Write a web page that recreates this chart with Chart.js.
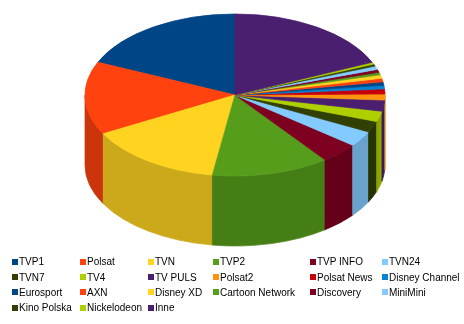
<!DOCTYPE html>
<html>
<head>
<meta charset="utf-8">
<script src="https://cdn.jsdelivr.net/npm/chart.js"></script>
<style>
    html, body { margin: 0; padding: 0; background: #fff; }
    #wrap { position: relative; width: 464px; height: 324px; overflow: hidden; }
    #chart { position: absolute; left: 0; top: 0; }
    #legend {
        position: absolute; left: 12px; top: 254px;
        display: grid;
        grid-template-columns: 68px 68px 65px 97px 72px auto;
        grid-auto-rows: 15.4px;
        font-family: "Liberation Sans", Arial, sans-serif;
        font-size: 10px; color: #000;
    }
    .item { display: flex; align-items: center; white-space: nowrap; }
    .box { width: 6px; height: 6px; margin-right: 1px; flex: none; }
</style>
</head>
<body>
<div id="wrap">
    <canvas id="chart" width="464" height="324"></canvas>
    <div id="legend"></div>
</div>
<script>
// Udział w rynku (%)
const channels = ['TVP1', 'Polsat', 'TVN', 'TVP2', 'TVP INFO', 'TVN24',
    'TVN7', 'TV4', 'TV PULS', 'Polsat2', 'Polsat News', 'Disney Channel',
    'Eurosport', 'AXN', 'Disney XD', 'Cartoon Network', 'Discovery', 'MiniMini',
    'Kino Polska', 'Nickelodeon', 'Inne'];
const shares = [18.3, 14.5, 14.6, 12.6, 4.1, 3.1,
    2.2, 2.1, 2.2, 1.2, 1.0, 0.7,
    0.7, 0.7, 0.7, 0.5, 0.6, 0.7,
    0.4, 0.4, 18.3];

// paleta jak w LibreOffice
const palette = ['#004586', '#ff420e', '#ffd320', '#579d1c', '#7e0021', '#83caff',
    '#314004', '#aecf00', '#4b1f6f', '#ff950e', '#c5000b', '#0084d1'];
const colors = channels.map((c, i) => palette[i % palette.length]);

// rzut "3D": elipsa + grubość
const VIEW = { cx: 235, cy: 95, rx: 150, ry: 81, depth: 70 };

const shade = (hex, f) => {
    const n = parseInt(hex.slice(1), 16);
    const r = Math.round(((n >> 16) & 255) * f);
    const g = Math.round(((n >> 8) & 255) * f);
    const b = Math.round((n & 255) * f);
    return `rgb(${r},${g},${b})`;
};

const pie3d = {
    id: 'pie3d',
    beforeDatasetsDraw(chart) {
        const ctx = chart.ctx;
        const arcs = chart.getDatasetMeta(0).data;
        const { x: cx, y: cy, outerRadius: r } = arcs[0];
        ctx.save();
        ctx.translate(VIEW.cx, VIEW.cy);
        // lustro w poziomie -> kolejność przeciwna do ruchu wskazówek
        ctx.scale(-VIEW.rx / r, VIEW.ry / r);
        ctx.translate(-cx, -cy);
        const d = VIEW.depth * r / VIEW.ry;
        arcs.forEach((arc) => {
            const s = Math.max(arc.startAngle, 0);
            const e = Math.min(arc.endAngle, Math.PI);
            if (e <= s) return;
            const col = shade(arc.options.backgroundColor, 0.8);
            ctx.beginPath();
            ctx.arc(cx, cy, r, s, e);
            ctx.arc(cx, cy + d, r, e, s, true);
            ctx.closePath();
            ctx.fillStyle = col;
            ctx.strokeStyle = col;
            ctx.lineWidth = 1;
            ctx.fill();
            ctx.stroke();
        });
    },
    afterDatasetsDraw(chart) {
        chart.ctx.restore();
    }
};

const chart = new Chart(document.getElementById('chart'), {
    type: 'pie',
    data: {
        labels: channels,
        datasets: [{
            data: shares,
            backgroundColor: colors,
            borderColor: colors,
            borderWidth: 1,
            clip: false
        }]
    },
    options: {
        responsive: false,
        animation: false,
        layout: { padding: 0 },
        plugins: {
            legend: { display: false },
            tooltip: { enabled: false }
        }
    },
    plugins: [pie3d]
});

// legenda w kolumnach
const legendEl = document.getElementById('legend');
chart.data.labels.forEach((label, i) => {
    const item = document.createElement('div');
    item.className = 'item';
    item.innerHTML = `<span class="box" style="background:${chart.data.datasets[0].backgroundColor[i]}"></span><span>${label}</span>`;
    legendEl.appendChild(item);
});
</script>
</body>
</html>
